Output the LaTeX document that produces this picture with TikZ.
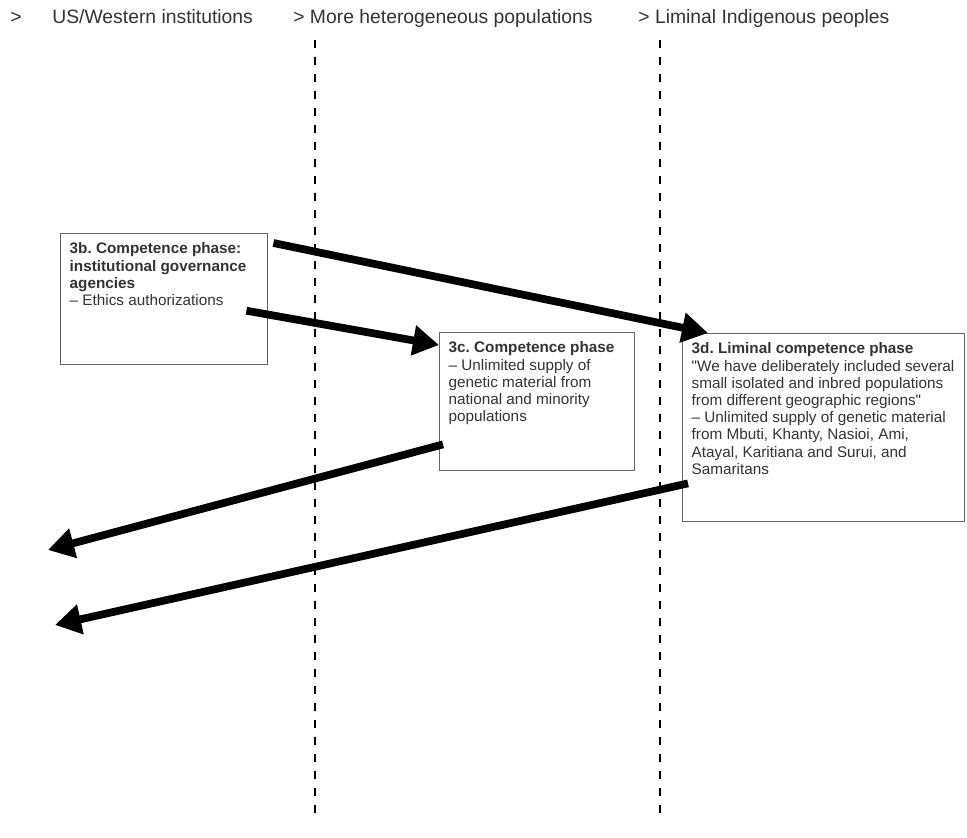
\documentclass[tikz,border=0pt]{standalone}
\usepackage{fontspec}
\setmainfont{Liberation Sans}
\usetikzlibrary{arrows.meta}
\definecolor{txt}{gray}{0.2}
\definecolor{frame}{gray}{0.4}
\frenchspacing
\begin{document}
\begin{tikzpicture}[>={Triangle[length=0.52cm,width=0.58cm]},
  head/.style={anchor=base west,inner sep=0,text=txt,font=\fontsize{11}{13}\selectfont},
  phase/.style={draw=frame,line width=0.8pt,anchor=north west,inner xsep=0.18cm,inner ysep=0.18cm,text=txt,font=\fontsize{8.7}{9.8}\selectfont},
  flow/.style={->,line width=4.4pt,black},
  guide/.style={line width=1.1pt,dash pattern=on 0.16cm off 0.18cm}]
\useasboundingbox (0,0) rectangle (19.34,-16.74);
\node[head] (h0) at (0.2,-0.46) {>};
\node[head] (h1) at (1.04,-0.46) {US/Western institutions};
\node[head] (h2) at (5.86,-0.46) {> More heterogeneous populations};
\node[head] (h3) at (12.76,-0.46) {> Liminal Indigenous peoples};
\coordinate (g1t) at (6.3,-0.8); \coordinate (g1b) at (6.3,-16.34);
\coordinate (g2t) at (13.2,-0.8); \coordinate (g2b) at (13.2,-16.34);
\draw[guide] (g1t)--(g1b);\draw[guide] (g2t)--(g2b);
\node[phase] (p3b) at (1.2,-4.66) {\parbox[t][2.26cm][t]{3.78cm}{\textbf{3b. Competence phase:}\\ \textbf{institutional governance}\\ \textbf{agencies}\\ -- Ethics authorizations}};
\node[phase] (p3c) at (8.78,-6.64) {\parbox[t][2.4cm][t]{3.54cm}{\textbf{3c. Competence phase}\\ -- Unlimited supply of\\ genetic material from\\ national and minority\\ populations}};
\node[phase] (p3d) at (13.64,-6.66) {\parbox[t][3.4cm][t]{5.28cm}{\textbf{3d. Liminal competence phase}\\ \textquotedbl We have deliberately included several\\ small isolated and inbred populations\\ from different geographic regions\textquotedbl\\ -- Unlimited supply of genetic material\\ from Mbuti, Khanty, Nasioi, Ami,\\ Atayal, Karitiana and Surui, and\\ Samaritans}};
\coordinate (w1) at (0.96,-11.0); \coordinate (w2) at (1.1,-12.5);
\draw[flow] ([xshift=0.1cm,yshift=-0.2cm]p3b.north east)--([xshift=0.52cm]p3d.north west);
\draw[flow] ([xshift=-0.44cm,yshift=-0.23cm]p3b.east)--([yshift=-0.26cm]p3c.north west);
\draw[flow] ([xshift=0.08cm,yshift=0.54cm]p3c.south west)--(w1);
\draw[flow] ([xshift=0.12cm,yshift=0.78cm]p3d.south west)--(w2);
\end{tikzpicture}
\end{document}
